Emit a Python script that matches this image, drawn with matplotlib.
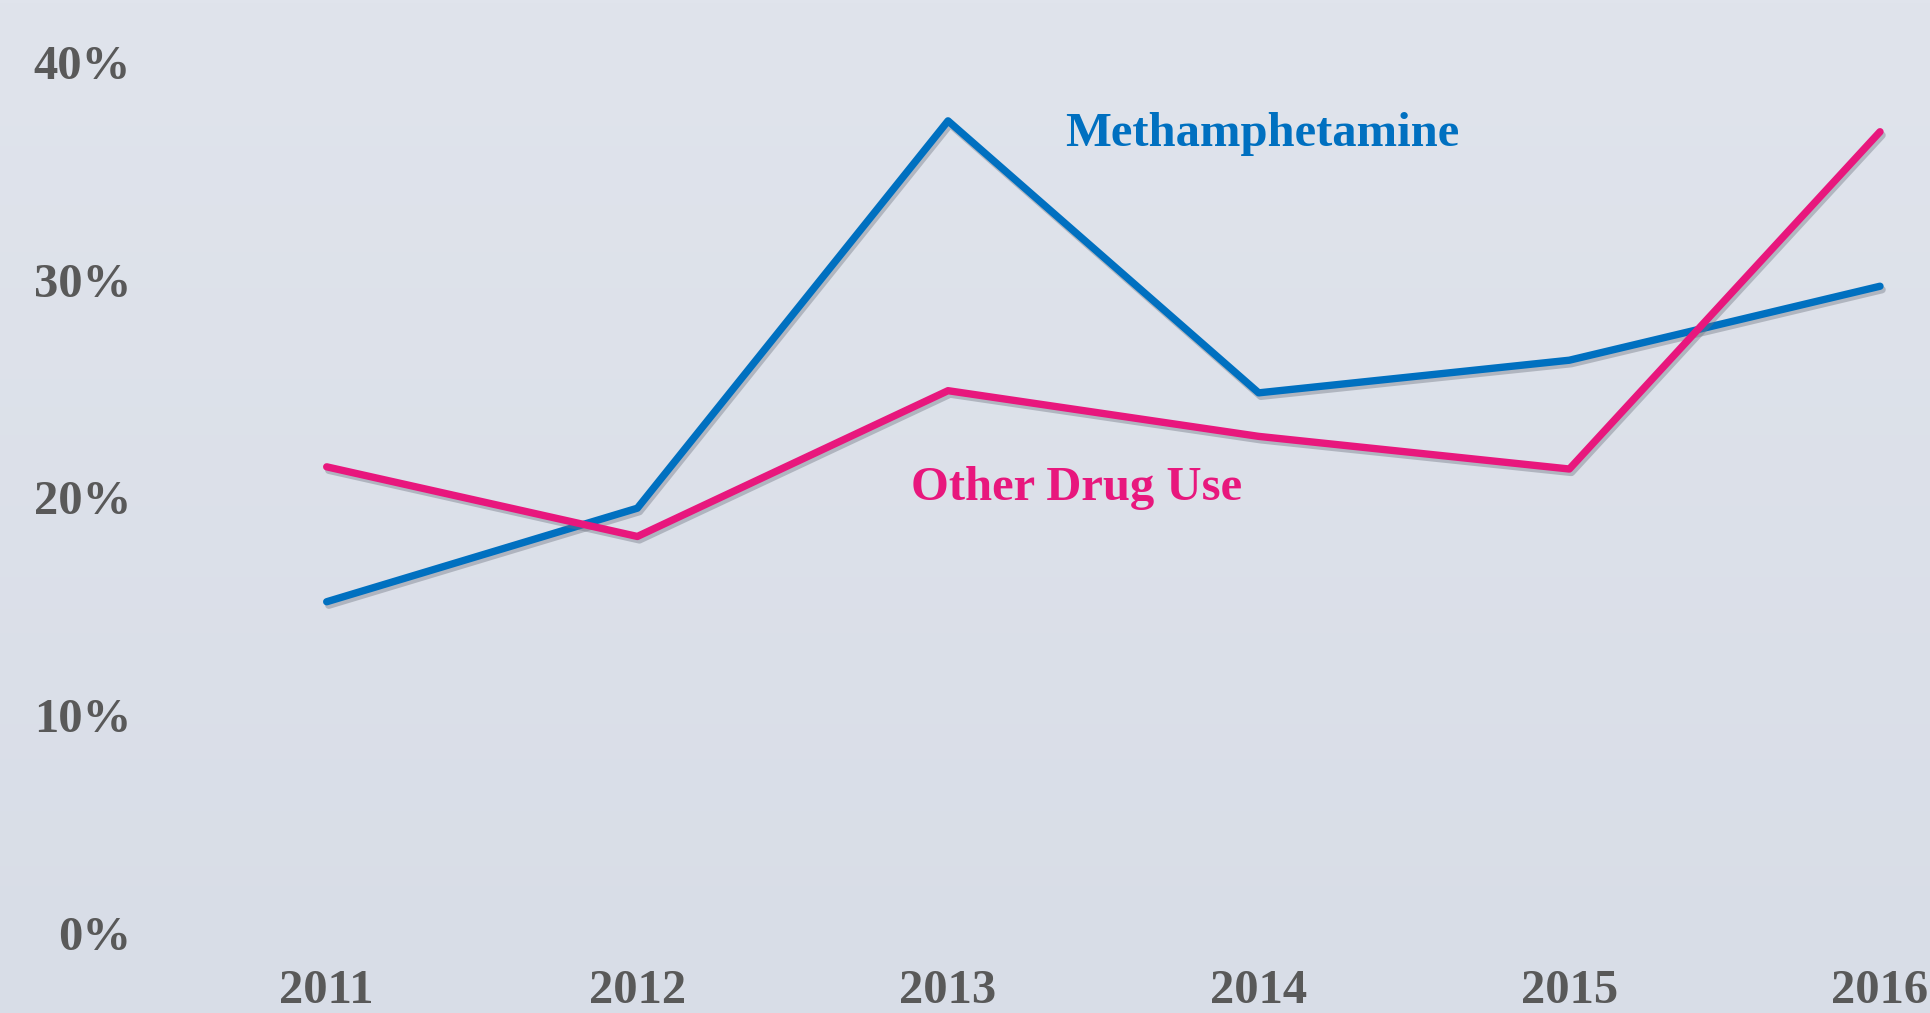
import numpy as np
import matplotlib
matplotlib.use("Agg")
import matplotlib.pyplot as plt
import matplotlib.patheffects as pe
from matplotlib.colors import LinearSegmentedColormap

years = [2011, 2012, 2013, 2014, 2015, 2016]
meth = [15.2, 19.5, 37.3, 24.8, 26.3, 29.7]
other = [21.4, 18.2, 24.9, 22.8, 21.3, 36.8]
yticks = [0, 10, 20, 30, 40]
ytick_labels = ["0%", "10%", "20%", "30%", "40%"]
xtick_labels = ["2011", "2012", "2013", "2014", "2015", "2016"]

BLUE = "#0070C0"
PINK = "#E8177D"
GREY = "#595959"
FONT = "Liberation Serif"
FS = 35

W, H = 1930, 1013
fig = plt.figure(figsize=(W / 100, H / 100), dpi=100)

# background gradient
bg = fig.add_axes([0, 0, 1, 1], zorder=0)
cmap = LinearSegmentedColormap.from_list("bg", ["#E0E4EC", "#D8DDE7"])
bg.imshow(np.linspace(0, 1, 256).reshape(-1, 1), aspect="auto", cmap=cmap,
          extent=[0, 1, 0, 1])
bg.axis("off")

ax = fig.add_axes([0, 0, 1, 1], zorder=1)
ax.patch.set_alpha(0)

shadow = [pe.SimpleLineShadow(offset=(1.5, -2.5), shadow_color="#6e7480", alpha=0.4),
          pe.Normal()]
ax.plot(years, meth, color=BLUE, lw=5.3, solid_capstyle="round",
        solid_joinstyle="round", path_effects=shadow, zorder=3)
ax.plot(years, other, color=PINK, lw=5.3, solid_capstyle="round",
        solid_joinstyle="round", path_effects=shadow, zorder=3)

# scales: 2011 at x=326.7px, 2016 at 1880px; 0% at 80.5px from bottom, 10% = 217.6px
px_per_year = (1880 - 326.7) / 5
ax.set_xlim(2011 - 326.7 / px_per_year, 2011 + (W - 326.7) / px_per_year)
ax.set_ylim(-80.5 / 21.76, (H - 80.5) / 21.76)

ax.set_yticks(yticks)
ax.set_yticklabels(ytick_labels)
ax.set_xticks(years)
ax.set_xticklabels(xtick_labels)
ax.tick_params(axis="both", length=0)
ax.tick_params(axis="y", pad=-131 * 0.72, labelsize=FS, labelcolor=GREY)
ax.tick_params(axis="x", pad=-44 * 0.72, labelsize=FS, labelcolor=GREY)
for lbl in ax.get_yticklabels() + ax.get_xticklabels():
    lbl.set_fontfamily(FONT)
    lbl.set_fontweight("bold")
for s in ax.spines.values():
    s.set_visible(False)

ax.text(2013.377, 36.7, "Methamphetamine", color=BLUE, fontsize=FS,
        fontfamily=FONT, fontweight="bold", ha="left", va="center")
ax.text(2012.881, 20.45, "Other Drug Use", color=PINK, fontsize=FS,
        fontfamily=FONT, fontweight="bold", ha="left", va="center")

fig.savefig("out.png", dpi=100)
